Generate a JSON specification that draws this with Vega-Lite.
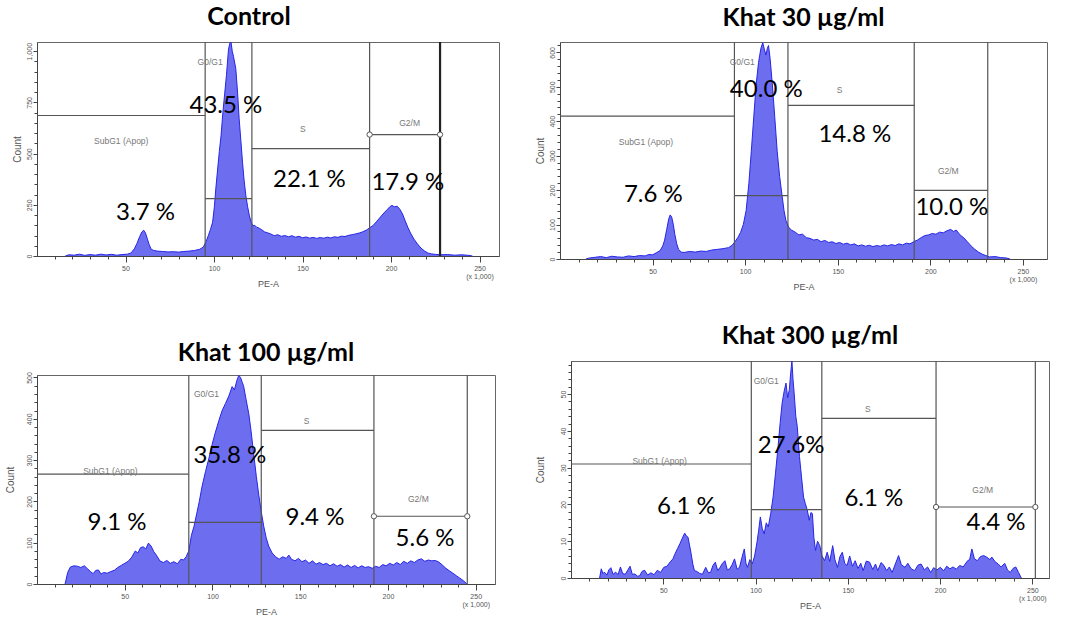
{
  "$schema": "https://vega.github.io/schema/vega-lite/v6.json",
  "description": "Cell cycle histograms, control and khat extract",
  "background": "white",
  "padding": {"left": 4, "top": 4, "right": 0, "bottom": 0},
  "config": {
    "view": {"stroke": "#666", "strokeWidth": 1},
    "font": "Liberation Sans",
    "title": {"font": "Lato", "fontSize": 25, "fontWeight": "bold", "color": "#000", "anchor": "middle", "frame": "group", "offset": 10},
    "axis": {"labelOverlap": false, "labelFlush": false, "grid": false},
    "axisX": {
      "titleFontSize": 9, "titleColor": "#555", "titleFontWeight": "normal", "titlePadding": 0,
      "labelFontSize": 7, "labelColor": "#555", "labelPadding": 2, "labelLineHeight": 8,
      "tickColor": "#444", "domainColor": "#444"
    },
    "axisY": {
      "titleFontSize": 10, "titleColor": "#555", "titleFontWeight": "normal", "titlePadding": 3,
      "labelAngle": -90, "labelAlign": "center", "labelBaseline": "bottom",
      "labelFontSize": 7, "labelColor": "#555", "labelPadding": 1,
      "tickColor": "#444", "domainColor": "#444"
    }
  },
  "datasets": {
    "h_ctrl": [
      {"pe":16,"count":0},{"pe":18,"count":6},{"pe":21,"count":4},{"pe":24,"count":9},{"pe":27,"count":3},{"pe":30,"count":7},{"pe":33,"count":4},{"pe":36,"count":9},{"pe":39,"count":5},{"pe":42,"count":8},{"pe":45,"count":4},{"pe":48,"count":7},{"pe":51,"count":9},{"pe":53,"count":14},{"pe":55,"count":35},{"pe":56.5,"count":62},{"pe":58,"count":95},{"pe":59.3,"count":118},{"pe":60.3,"count":126},{"pe":61.3,"count":112},{"pe":62.4,"count":82},{"pe":63.4,"count":55},{"pe":64.5,"count":33},{"pe":66,"count":27},{"pe":68,"count":24},{"pe":71,"count":22},{"pe":74,"count":20},{"pe":77,"count":21},{"pe":80,"count":19},{"pe":83,"count":22},{"pe":86,"count":24},{"pe":89,"count":27},{"pe":92,"count":33},{"pe":94,"count":44},{"pe":95.5,"count":70},{"pe":96.8,"count":100},{"pe":98,"count":130},{"pe":99.2,"count":165},{"pe":100.2,"count":240},{"pe":101,"count":327},{"pe":102,"count":420},{"pe":103,"count":510},{"pe":104,"count":590},{"pe":105,"count":700},{"pe":106,"count":790},{"pe":107,"count":880},{"pe":108.2,"count":1010},{"pe":109,"count":1040},{"pe":109.6,"count":1045},{"pe":110.3,"count":1000},{"pe":111,"count":975},{"pe":112.3,"count":915},{"pe":113.3,"count":800},{"pe":114.2,"count":670},{"pe":115.2,"count":560},{"pe":116.1,"count":458},{"pe":117,"count":370},{"pe":118,"count":294},{"pe":119,"count":240},{"pe":120,"count":196},{"pe":121,"count":165},{"pe":122,"count":148},{"pe":123,"count":150},{"pe":124,"count":141},{"pe":125.5,"count":136},{"pe":127,"count":128},{"pe":128.5,"count":118},{"pe":130,"count":114},{"pe":132,"count":108},{"pe":134,"count":99},{"pe":136,"count":104},{"pe":138,"count":96},{"pe":140,"count":100},{"pe":142,"count":94},{"pe":144,"count":99},{"pe":146,"count":92},{"pe":148,"count":96},{"pe":150,"count":89},{"pe":152,"count":93},{"pe":154,"count":87},{"pe":156,"count":91},{"pe":158,"count":86},{"pe":160,"count":90},{"pe":162,"count":87},{"pe":164,"count":92},{"pe":166,"count":88},{"pe":168,"count":94},{"pe":170,"count":91},{"pe":172,"count":97},{"pe":174,"count":95},{"pe":176,"count":101},{"pe":178,"count":104},{"pe":180,"count":108},{"pe":182,"count":112},{"pe":184,"count":118},{"pe":186,"count":126},{"pe":188,"count":138},{"pe":190,"count":150},{"pe":192,"count":170},{"pe":194,"count":190},{"pe":196,"count":210},{"pe":198,"count":228},{"pe":199.5,"count":242},{"pe":200.5,"count":247},{"pe":202,"count":240},{"pe":203.5,"count":243},{"pe":205,"count":228},{"pe":206.5,"count":205},{"pe":208,"count":172},{"pe":209.5,"count":140},{"pe":211,"count":112},{"pe":213,"count":82},{"pe":215,"count":58},{"pe":217,"count":38},{"pe":219,"count":24},{"pe":221,"count":14},{"pe":223,"count":10},{"pe":225,"count":8},{"pe":228,"count":6},{"pe":232,"count":7},{"pe":236,"count":4},{"pe":240,"count":6},{"pe":244,"count":3},{"pe":246,"count":0}
    ],
    "h_k30": [
      {"pe":14,"count":0},{"pe":16,"count":3},{"pe":19,"count":5},{"pe":22,"count":7},{"pe":25,"count":4},{"pe":28,"count":8},{"pe":31,"count":6},{"pe":34,"count":5},{"pe":37,"count":9},{"pe":40,"count":7},{"pe":43,"count":10},{"pe":46,"count":9},{"pe":48,"count":13},{"pe":50,"count":12},{"pe":52,"count":18},{"pe":54,"count":24},{"pe":55.5,"count":38},{"pe":56.5,"count":55},{"pe":57.6,"count":85},{"pe":58.7,"count":116},{"pe":59.5,"count":128},{"pe":60.3,"count":122},{"pe":61.2,"count":100},{"pe":62,"count":72},{"pe":63,"count":45},{"pe":64,"count":28},{"pe":65.5,"count":20},{"pe":67,"count":19},{"pe":70,"count":22},{"pe":73,"count":20},{"pe":76,"count":23},{"pe":79,"count":22},{"pe":82,"count":26},{"pe":85,"count":28},{"pe":88,"count":30},{"pe":91,"count":33},{"pe":93,"count":40},{"pe":94.5,"count":50},{"pe":96,"count":62},{"pe":97.5,"count":77},{"pe":99,"count":100},{"pe":100.5,"count":140},{"pe":102,"count":220},{"pe":103.3,"count":312},{"pe":104.6,"count":410},{"pe":105.9,"count":505},{"pe":107.2,"count":570},{"pe":108.5,"count":612},{"pe":109.5,"count":628},{"pe":110.3,"count":610},{"pe":111.2,"count":592},{"pe":112,"count":612},{"pe":112.6,"count":620},{"pe":113.5,"count":580},{"pe":114.7,"count":505},{"pe":116,"count":410},{"pe":117.3,"count":312},{"pe":118.6,"count":240},{"pe":119.9,"count":185},{"pe":121,"count":140},{"pe":122,"count":112},{"pe":123.5,"count":92},{"pe":125,"count":84},{"pe":127,"count":78},{"pe":129,"count":70},{"pe":131,"count":72},{"pe":133,"count":62},{"pe":135,"count":60},{"pe":137,"count":55},{"pe":139,"count":57},{"pe":141,"count":50},{"pe":143,"count":54},{"pe":145,"count":48},{"pe":147,"count":50},{"pe":149,"count":45},{"pe":151,"count":48},{"pe":153,"count":43},{"pe":155,"count":46},{"pe":157,"count":41},{"pe":159,"count":44},{"pe":161,"count":38},{"pe":163,"count":41},{"pe":165,"count":37},{"pe":167,"count":40},{"pe":169,"count":36},{"pe":171,"count":39},{"pe":173,"count":37},{"pe":175,"count":41},{"pe":177,"count":38},{"pe":179,"count":42},{"pe":181,"count":39},{"pe":183,"count":44},{"pe":185,"count":41},{"pe":187,"count":46},{"pe":189,"count":44},{"pe":191,"count":50},{"pe":193,"count":55},{"pe":195,"count":62},{"pe":197,"count":68},{"pe":199,"count":70},{"pe":201,"count":74},{"pe":203,"count":72},{"pe":205,"count":78},{"pe":207,"count":76},{"pe":209,"count":82},{"pe":211,"count":86},{"pe":212.5,"count":80},{"pe":214,"count":84},{"pe":216,"count":70},{"pe":218,"count":62},{"pe":220,"count":50},{"pe":222,"count":38},{"pe":224,"count":28},{"pe":226,"count":20},{"pe":228,"count":14},{"pe":230,"count":10},{"pe":232,"count":6},{"pe":235,"count":7},{"pe":238,"count":4},{"pe":241,"count":3},{"pe":243,"count":0}
    ],
    "h_k100": [
      {"pe":16,"count":0},{"pe":17.5,"count":28},{"pe":19,"count":41},{"pe":21,"count":44},{"pe":23,"count":43},{"pe":25,"count":40},{"pe":27,"count":44},{"pe":29,"count":36},{"pe":30.5,"count":30},{"pe":32,"count":25},{"pe":33.5,"count":33},{"pe":35,"count":34},{"pe":36.5,"count":24},{"pe":38,"count":28},{"pe":40,"count":26},{"pe":42,"count":30},{"pe":44,"count":33},{"pe":46,"count":40},{"pe":48,"count":45},{"pe":50,"count":50},{"pe":52,"count":55},{"pe":54,"count":65},{"pe":56,"count":80},{"pe":57.5,"count":75},{"pe":59,"count":88},{"pe":60.5,"count":90},{"pe":62,"count":85},{"pe":63.5,"count":99},{"pe":65,"count":92},{"pe":66.6,"count":78},{"pe":68,"count":70},{"pe":70,"count":56},{"pe":72,"count":52},{"pe":74,"count":57},{"pe":76,"count":50},{"pe":78,"count":54},{"pe":80,"count":49},{"pe":82,"count":60},{"pe":83.5,"count":58},{"pe":85,"count":66},{"pe":86.5,"count":80},{"pe":88,"count":118},{"pe":89.5,"count":140},{"pe":91,"count":170},{"pe":92.5,"count":200},{"pe":94,"count":235},{"pe":96,"count":272},{"pe":98,"count":305},{"pe":99.8,"count":338},{"pe":101.5,"count":365},{"pe":103.6,"count":395},{"pe":105.5,"count":420},{"pe":107.4,"count":437},{"pe":109.3,"count":455},{"pe":111.2,"count":478},{"pe":112.5,"count":470},{"pe":114,"count":494},{"pe":115,"count":505},{"pe":116,"count":500},{"pe":117,"count":488},{"pe":117.8,"count":478},{"pe":119,"count":450},{"pe":120.7,"count":412},{"pe":122,"count":370},{"pe":123.5,"count":314},{"pe":125,"count":260},{"pe":126.4,"count":215},{"pe":127.8,"count":175},{"pe":129.2,"count":140},{"pe":130.6,"count":112},{"pe":132,"count":92},{"pe":134,"count":75},{"pe":136,"count":66},{"pe":138,"count":60},{"pe":140,"count":66},{"pe":142,"count":62},{"pe":143.5,"count":70},{"pe":145,"count":60},{"pe":147,"count":56},{"pe":149,"count":62},{"pe":151,"count":54},{"pe":153,"count":58},{"pe":155,"count":50},{"pe":157,"count":56},{"pe":159,"count":48},{"pe":161,"count":52},{"pe":163,"count":47},{"pe":165,"count":50},{"pe":167,"count":44},{"pe":169,"count":49},{"pe":171,"count":43},{"pe":173,"count":47},{"pe":175,"count":41},{"pe":177,"count":46},{"pe":179,"count":40},{"pe":181,"count":45},{"pe":183,"count":39},{"pe":185,"count":44},{"pe":187,"count":40},{"pe":189,"count":42},{"pe":191,"count":38},{"pe":193,"count":43},{"pe":195,"count":40},{"pe":197,"count":47},{"pe":199,"count":44},{"pe":201,"count":50},{"pe":203,"count":46},{"pe":205,"count":52},{"pe":207,"count":47},{"pe":209,"count":55},{"pe":211,"count":50},{"pe":213,"count":56},{"pe":215,"count":52},{"pe":217,"count":58},{"pe":219,"count":61},{"pe":221,"count":55},{"pe":223,"count":58},{"pe":225,"count":56},{"pe":227,"count":57},{"pe":229,"count":53},{"pe":231,"count":46},{"pe":233,"count":38},{"pe":235,"count":32},{"pe":237,"count":26},{"pe":239,"count":20},{"pe":241,"count":14},{"pe":243,"count":8},{"pe":245,"count":0}
    ],
    "h_k300": [
      {"pe":15.5,"count":0},{"pe":16.4,"count":2.5},{"pe":17.3,"count":1.2},{"pe":18.1,"count":1.6},{"pe":19.5,"count":0.8},{"pe":20.5,"count":2.2},{"pe":21.6,"count":2.8},{"pe":22.8,"count":1.0},{"pe":24.2,"count":1.6},{"pe":25.5,"count":0.9},{"pe":26.8,"count":3.0},{"pe":28,"count":1.2},{"pe":29.4,"count":1.0},{"pe":30.7,"count":2.1},{"pe":32,"count":3.2},{"pe":33.2,"count":1.0},{"pe":34.6,"count":1.1},{"pe":36,"count":0.5},{"pe":37.2,"count":0.6},{"pe":38.5,"count":1.8},{"pe":39.9,"count":2.1},{"pe":41.5,"count":0.8},{"pe":43.3,"count":1.4},{"pe":45,"count":0.9},{"pe":46.8,"count":2.1},{"pe":48.5,"count":1.5},{"pe":50.3,"count":2.9},{"pe":52,"count":3.2},{"pe":53.8,"count":4.4},{"pe":55.2,"count":5.2},{"pe":56.4,"count":6.6},{"pe":57.7,"count":8.0},{"pe":59,"count":9.3},{"pe":60.3,"count":10.8},{"pe":61.6,"count":12.2},{"pe":62.5,"count":11.4},{"pe":63.4,"count":11.1},{"pe":64.2,"count":9.0},{"pe":65.1,"count":6.6},{"pe":66,"count":3.8},{"pe":66.9,"count":2.0},{"pe":68.2,"count":1.8},{"pe":69.5,"count":1.3},{"pe":71.2,"count":1.0},{"pe":73,"count":2.9},{"pe":74.3,"count":1.5},{"pe":75.6,"count":1.5},{"pe":76.9,"count":3.4},{"pe":78.2,"count":4.3},{"pe":79.5,"count":2.0},{"pe":80.8,"count":2.9},{"pe":82.1,"count":4.0},{"pe":83.4,"count":4.7},{"pe":84.7,"count":2.2},{"pe":86,"count":2.5},{"pe":87.3,"count":3.6},{"pe":88.6,"count":5.2},{"pe":90,"count":2.4},{"pe":91.3,"count":2.9},{"pe":92.6,"count":5.5},{"pe":93.9,"count":7.9},{"pe":94.8,"count":4.0},{"pe":95.6,"count":2.9},{"pe":96.9,"count":5.0},{"pe":98.2,"count":3.8},{"pe":99.5,"count":6.0},{"pe":100.8,"count":9.8},{"pe":101.7,"count":13.0},{"pe":102.6,"count":16.6},{"pe":103.6,"count":13.5},{"pe":104.7,"count":12.0},{"pe":105.8,"count":15.0},{"pe":106.9,"count":13.9},{"pe":108.2,"count":17.5},{"pe":109.5,"count":22.0},{"pe":110.8,"count":28.5},{"pe":112.2,"count":35.7},{"pe":113.3,"count":42.0},{"pe":114.4,"count":47.6},{"pe":115.5,"count":50.8},{"pe":116.5,"count":53.0},{"pe":117.4,"count":49.0},{"pe":118.3,"count":51.2},{"pe":119,"count":55.5},{"pe":119.7,"count":59.0},{"pe":120.3,"count":54.0},{"pe":120.9,"count":50.3},{"pe":121.8,"count":44.0},{"pe":122.6,"count":41.2},{"pe":123.8,"count":33.0},{"pe":124.9,"count":27.5},{"pe":126,"count":22.0},{"pe":127,"count":20.2},{"pe":128,"count":18.5},{"pe":129.1,"count":15.7},{"pe":130,"count":17.8},{"pe":130.8,"count":17.5},{"pe":131.6,"count":11.0},{"pe":132.5,"count":7.5},{"pe":133.6,"count":10.0},{"pe":134.8,"count":8.8},{"pe":136,"count":6.0},{"pe":137.4,"count":4.7},{"pe":138.8,"count":7.0},{"pe":140.2,"count":4.5},{"pe":141.8,"count":8.8},{"pe":143,"count":5.0},{"pe":144.4,"count":2.9},{"pe":145.7,"count":5.8},{"pe":147,"count":7.0},{"pe":148.3,"count":4.0},{"pe":149.6,"count":3.4},{"pe":151,"count":6.0},{"pe":152.5,"count":3.2},{"pe":154,"count":4.7},{"pe":155.5,"count":2.6},{"pe":157,"count":4.0},{"pe":158.3,"count":2.0},{"pe":160,"count":4.6},{"pe":161.8,"count":4.3},{"pe":163.5,"count":2.3},{"pe":165,"count":3.8},{"pe":166.2,"count":2.0},{"pe":168,"count":4.2},{"pe":169.6,"count":3.4},{"pe":171,"count":2.0},{"pe":172.5,"count":3.0},{"pe":174,"count":1.5},{"pe":175.5,"count":3.5},{"pe":177.5,"count":6.1},{"pe":179,"count":3.6},{"pe":181,"count":2.9},{"pe":182.5,"count":4.0},{"pe":184.3,"count":2.5},{"pe":186.2,"count":2.0},{"pe":188,"count":3.5},{"pe":189.7,"count":3.8},{"pe":191.5,"count":2.2},{"pe":193.2,"count":3.0},{"pe":194.9,"count":1.5},{"pe":196.5,"count":2.8},{"pe":198.3,"count":2.2},{"pe":200.1,"count":2.9},{"pe":202,"count":2.0},{"pe":203.6,"count":3.2},{"pe":205.3,"count":2.5},{"pe":207,"count":3.0},{"pe":208.8,"count":2.4},{"pe":210.6,"count":3.4},{"pe":212.5,"count":3.0},{"pe":214.9,"count":4.7},{"pe":216,"count":5.0},{"pe":217.2,"count":7.9},{"pe":218.6,"count":5.2},{"pe":220.2,"count":4.7},{"pe":221.8,"count":5.8},{"pe":223.6,"count":6.1},{"pe":225.5,"count":5.6},{"pe":227,"count":5.0},{"pe":228,"count":5.7},{"pe":229.8,"count":4.4},{"pe":231.5,"count":3.8},{"pe":233,"count":3.0},{"pe":235,"count":4.0},{"pe":236.5,"count":2.2},{"pe":238,"count":1.5},{"pe":239.5,"count":2.6},{"pe":241,"count":3.0},{"pe":242.5,"count":1.5},{"pe":244,"count":0}
    ],
    "g_ctrl": [
      {"gate":"SubG1","x1":0,"x2":95,"y":686,"label":"SubG1 (Apop)","lx":47.6,"ly":564,"pct":"3.7 %","px":61.3,"py":211},
      {"gate":"G0/G1","x1":95,"x2":121.4,"y":280,"label":"G0/G1","lx":97.8,"ly":946,"pct":"43.5 %","px":106.7,"py":732},
      {"gate":"S","x1":121.4,"x2":187.9,"y":524,"label":"S","lx":150.2,"ly":618,"pct":"22.1 %","px":153.9,"py":371},
      {"gate":"G2/M","x1":187.9,"x2":227.7,"y":593,"label":"G2/M","lx":210.5,"ly":650,"pct":"17.9 %","px":209.5,"py":358}
    ],
    "g_k30": [
      {"gate":"SubG1","x1":0,"x2":94.2,"y":415,"label":"SubG1 (Apop)","lx":46.4,"ly":341,"pct":"7.6 %","px":50.4,"py":186},
      {"gate":"G0/G1","x1":94.2,"x2":123.1,"y":184,"label":"G0/G1","lx":98.4,"ly":572,"pct":"40.0 %","px":111.4,"py":490},
      {"gate":"S","x1":123.1,"x2":191.3,"y":446,"label":"S","lx":151,"ly":490,"pct":"14.8 %","px":159.2,"py":360},
      {"gate":"G2/M","x1":191.3,"x2":231,"y":199,"label":"G2/M","lx":209.7,"ly":256,"pct":"10.0 %","px":211.6,"py":148}
    ],
    "g_k100": [
      {"gate":"SubG1","x1":0,"x2":86.5,"y":266,"label":"SubG1 (Apop)","lx":41.8,"ly":273,"pct":"9.1 %","px":45.6,"py":148},
      {"gate":"G0/G1","x1":86.5,"x2":127.8,"y":149,"label":"G0/G1","lx":96.6,"ly":461,"pct":"35.8 %","px":109.9,"py":310},
      {"gate":"S","x1":127.8,"x2":192,"y":372,"label":"S","lx":153.6,"ly":394,"pct":"9.4 %","px":158.4,"py":160},
      {"gate":"G2/M","x1":192,"x2":245.2,"y":164,"label":"G2/M","lx":217.3,"ly":205,"pct":"5.6 %","px":221.1,"py":110}
    ],
    "g_k300": [
      {"gate":"SubG1","x1":0,"x2":97.7,"y":31,"label":"SubG1 (Apop)","lx":48,"ly":31.9,"pct":"6.1 %","px":62.5,"py":19.3},
      {"gate":"G0/G1","x1":97.7,"x2":135.9,"y":18.6,"label":"G0/G1","lx":105.8,"ly":53.6,"pct":"27.6%","px":119.3,"py":36},
      {"gate":"S","x1":135.9,"x2":197.8,"y":43.4,"label":"S","lx":160.8,"ly":45.9,"pct":"6.1 %","px":164.1,"py":21.5},
      {"gate":"G2/M","x1":197.8,"x2":251.6,"y":19.3,"label":"G2/M","lx":223.1,"ly":24,"pct":"4.4 %","px":230.3,"py":15}
    ],
    "m_ctrl": [{"x":187.9,"y":593},{"x":227.7,"y":593}],
    "m_k100": [{"x":192,"y":164},{"x":245.2,"y":164}],
    "m_k300": [{"x":197.8,"y":19.3},{"x":251.6,"y":19.3}]
  },
  "columns": 2,
  "align": "none",
  "spacing": {"row": 31, "column": 34},
  "concat": [
    {
      "title": {"text": "Control", "dx": -19},
      "width": 462,
      "height": 214,
      "resolve": {"axis": {"x": "independent", "y": "independent"}},
      "layer": [
        {
          "data": {"name": "h_ctrl"},
          "mark": {"type": "area", "color": "#6d6df0", "opacity": 1, "line": {"color": "#2626e6", "strokeWidth": 1}},
          "encoding": {
            "x": {"field": "pe", "type": "quantitative", "title": "PE-A", "scale": {"domain": [0, 261], "nice": false},
              "axis": {"values": [50,100,150,200,250], "labelExpr": "datum.value === 250 ? ['250', '(x 1,000)'] : datum.label", "tickSize": 6}},
            "y": {"field": "count", "type": "quantitative", "title": "Count", "scale": {"domain": [0, 1045], "nice": false},
              "axis": {"values": [0,250,500,750,1000], "labelExpr": "format(datum.value, ',')", "tickSize": 4}}
          }
        },
        {
          "data": {"name": "g_ctrl"},
          "mark": {"type": "rule", "color": "#555", "strokeWidth": 1.2},
          "encoding": {"x": {"field": "x2", "type": "quantitative",
            "axis": {"orient": "bottom", "values": [10,20,30,40,60,70,80,90,110,120,130,140,160,170,180,190,210,220,230,240], "labels": false, "domain": false, "title": null, "tickSize": 3}}}
        },
        {
          "data": {"name": "g_ctrl"},
          "transform": [{"filter": "datum.gate === 'G2/M'"}],
          "mark": {"type": "rule", "color": "#222", "strokeWidth": 2.2},
          "encoding": {"x": {"field": "x2", "type": "quantitative", "axis": null}}
        },
        {
          "data": {"name": "g_ctrl"},
          "mark": {"type": "rule", "color": "#555", "strokeWidth": 1.2},
          "encoding": {
            "x": {"field": "x1", "type": "quantitative", "axis": null},
            "x2": {"field": "x2"},
            "y": {"field": "y", "type": "quantitative",
              "axis": {"orient": "left", "values": [50,100,150,200,300,350,400,450,550,600,650,700,800,850,900,950], "labels": false, "domain": false, "title": null, "tickSize": 3}}
          }
        },
        {
          "data": {"name": "m_ctrl"},
          "mark": {"type": "point", "shape": "circle", "filled": false, "fill": "white", "fillOpacity": 1, "stroke": "#555", "strokeWidth": 1, "size": 28, "opacity": 1},
          "encoding": {
            "x": {"field": "x", "type": "quantitative", "axis": null},
            "y": {"field": "y", "type": "quantitative", "axis": null}
          }
        },
        {
          "data": {"name": "g_ctrl"},
          "mark": {"type": "text", "fontSize": 8.5, "color": "#777", "align": "center", "baseline": "middle"},
          "encoding": {
            "x": {"field": "lx", "type": "quantitative", "axis": null},
            "y": {"field": "ly", "type": "quantitative", "axis": null},
            "text": {"field": "label"}
          }
        },
        {
          "data": {"name": "g_ctrl"},
          "mark": {"type": "text", "font": "Lato", "fontSize": 24, "color": "#000", "align": "center", "baseline": "middle"},
          "encoding": {
            "x": {"field": "px", "type": "quantitative", "axis": null},
            "y": {"field": "py", "type": "quantitative", "axis": null},
            "text": {"field": "pct"}
          }
        }
      ]
    },
    {
      "title": {"text": "Khat 30 µg/ml"},
      "width": 487,
      "height": 217,
      "resolve": {"axis": {"x": "independent", "y": "independent"}},
      "layer": [
        {
          "data": {"name": "h_k30"},
          "mark": {"type": "area", "color": "#6d6df0", "opacity": 1, "line": {"color": "#2626e6", "strokeWidth": 1}},
          "encoding": {
            "x": {"field": "pe", "type": "quantitative", "title": "PE-A", "scale": {"domain": [0, 263], "nice": false},
              "axis": {"values": [50,100,150,200,250], "labelExpr": "datum.value === 250 ? ['250', '(x 1,000)'] : datum.label", "tickSize": 6}},
            "y": {"field": "count", "type": "quantitative", "title": "Count", "scale": {"domain": [0, 630], "nice": false},
              "axis": {"values": [0,100,200,300,400,500,600], "tickSize": 4}}
          }
        },
        {
          "data": {"name": "g_k30"},
          "mark": {"type": "rule", "color": "#555", "strokeWidth": 1.2},
          "encoding": {"x": {"field": "x2", "type": "quantitative",
            "axis": {"orient": "bottom", "values": [10,20,30,40,60,70,80,90,110,120,130,140,160,170,180,190,210,220,230,240], "labels": false, "domain": false, "title": null, "tickSize": 3}}}
        },
        {
          "data": {"name": "g_k30"},
          "mark": {"type": "rule", "color": "#555", "strokeWidth": 1.2},
          "encoding": {
            "x": {"field": "x1", "type": "quantitative", "axis": null},
            "x2": {"field": "x2"},
            "y": {"field": "y", "type": "quantitative",
              "axis": {"orient": "left", "values": [20,40,60,80,120,140,160,180,220,240,260,280,320,340,360,380,420,440,460,480,520,540,560,580,620], "labels": false, "domain": false, "title": null, "tickSize": 3}}
          }
        },
        {
          "data": {"name": "g_k30"},
          "mark": {"type": "text", "fontSize": 8.5, "color": "#777", "align": "center", "baseline": "middle"},
          "encoding": {
            "x": {"field": "lx", "type": "quantitative", "axis": null},
            "y": {"field": "ly", "type": "quantitative", "axis": null},
            "text": {"field": "label"}
          }
        },
        {
          "data": {"name": "g_k30"},
          "mark": {"type": "text", "font": "Lato", "fontSize": 24, "color": "#000", "align": "center", "baseline": "middle"},
          "encoding": {
            "x": {"field": "px", "type": "quantitative", "axis": null},
            "y": {"field": "py", "type": "quantitative", "axis": null},
            "text": {"field": "pct"}
          }
        }
      ]
    },
    {
      "title": {"text": ["", "Khat 100 µg/ml"], "lineHeight": 17, "offset": 6},
      "width": 458,
      "height": 209,
      "resolve": {"axis": {"x": "independent", "y": "independent"}},
      "layer": [
        {
          "data": {"name": "h_k100"},
          "mark": {"type": "area", "color": "#6d6df0", "opacity": 1, "line": {"color": "#2626e6", "strokeWidth": 1}},
          "encoding": {
            "x": {"field": "pe", "type": "quantitative", "title": "PE-A", "scale": {"domain": [0, 261], "nice": false},
              "axis": {"values": [50,100,150,200,250], "labelExpr": "datum.value === 250 ? ['250', '(x 1,000)'] : datum.label", "tickSize": 6}},
            "y": {"field": "count", "type": "quantitative", "title": "Count", "scale": {"domain": [0, 506], "nice": false},
              "axis": {"values": [0,100,200,300,400,500], "tickSize": 4, "minExtent": 19}}
          }
        },
        {
          "data": {"name": "g_k100"},
          "mark": {"type": "rule", "color": "#555", "strokeWidth": 1.2},
          "encoding": {"x": {"field": "x2", "type": "quantitative",
            "axis": {"orient": "bottom", "values": [10,20,30,40,60,70,80,90,110,120,130,140,160,170,180,190,210,220,230,240], "labels": false, "domain": false, "title": null, "tickSize": 3}}}
        },
        {
          "data": {"name": "g_k100"},
          "mark": {"type": "rule", "color": "#555", "strokeWidth": 1.2},
          "encoding": {
            "x": {"field": "x1", "type": "quantitative", "axis": null},
            "x2": {"field": "x2"},
            "y": {"field": "y", "type": "quantitative",
              "axis": {"orient": "left", "values": [20,40,60,80,120,140,160,180,220,240,260,280,320,340,360,380,420,440,460,480], "labels": false, "domain": false, "title": null, "tickSize": 3}}
          }
        },
        {
          "data": {"name": "m_k100"},
          "mark": {"type": "point", "shape": "circle", "filled": false, "fill": "white", "fillOpacity": 1, "stroke": "#555", "strokeWidth": 1, "size": 28, "opacity": 1},
          "encoding": {
            "x": {"field": "x", "type": "quantitative", "axis": null},
            "y": {"field": "y", "type": "quantitative", "axis": null}
          }
        },
        {
          "data": {"name": "g_k100"},
          "mark": {"type": "text", "fontSize": 8.5, "color": "#777", "align": "center", "baseline": "middle"},
          "encoding": {
            "x": {"field": "lx", "type": "quantitative", "axis": null},
            "y": {"field": "ly", "type": "quantitative", "axis": null},
            "text": {"field": "label"}
          }
        },
        {
          "data": {"name": "g_k100"},
          "mark": {"type": "text", "font": "Lato", "fontSize": 24, "color": "#000", "align": "center", "baseline": "middle"},
          "encoding": {
            "x": {"field": "px", "type": "quantitative", "axis": null},
            "y": {"field": "py", "type": "quantitative", "axis": null},
            "text": {"field": "pct"}
          }
        }
      ]
    },
    {
      "title": {"text": "Khat 300 µg/ml", "offset": 10},
      "width": 478,
      "height": 217,
      "resolve": {"axis": {"x": "independent", "y": "independent"}},
      "layer": [
        {
          "data": {"name": "h_k300"},
          "mark": {"type": "area", "color": "#6d6df0", "opacity": 1, "line": {"color": "#2626e6", "strokeWidth": 1}},
          "encoding": {
            "x": {"field": "pe", "type": "quantitative", "title": "PE-A", "scale": {"domain": [0, 259], "nice": false},
              "axis": {"values": [50,100,150,200,250], "labelExpr": "datum.value === 250 ? ['250', '(x 1,000)'] : datum.label", "tickSize": 6}},
            "y": {"field": "count", "type": "quantitative", "title": "Count", "scale": {"domain": [0, 59], "nice": false},
              "axis": {"values": [0,10,20,30,40,50], "tickSize": 4, "minExtent": 23}}
          }
        },
        {
          "data": {"name": "g_k300"},
          "mark": {"type": "rule", "color": "#555", "strokeWidth": 1.2},
          "encoding": {"x": {"field": "x2", "type": "quantitative",
            "axis": {"orient": "bottom", "values": [10,20,30,40,60,70,80,90,110,120,130,140,160,170,180,190,210,220,230,240], "labels": false, "domain": false, "title": null, "tickSize": 3}}}
        },
        {
          "data": {"name": "g_k300"},
          "mark": {"type": "rule", "color": "#555", "strokeWidth": 1.2},
          "encoding": {
            "x": {"field": "x1", "type": "quantitative", "axis": null},
            "x2": {"field": "x2"},
            "y": {"field": "y", "type": "quantitative",
              "axis": {"orient": "left", "values": [2,4,6,8,12,14,16,18,22,24,26,28,32,34,36,38,42,44,46,48,52,54,56,58], "labels": false, "domain": false, "title": null, "tickSize": 3}}
          }
        },
        {
          "data": {"name": "m_k300"},
          "mark": {"type": "point", "shape": "circle", "filled": false, "fill": "white", "fillOpacity": 1, "stroke": "#555", "strokeWidth": 1, "size": 28, "opacity": 1},
          "encoding": {
            "x": {"field": "x", "type": "quantitative", "axis": null},
            "y": {"field": "y", "type": "quantitative", "axis": null}
          }
        },
        {
          "data": {"name": "g_k300"},
          "mark": {"type": "text", "fontSize": 8.5, "color": "#777", "align": "center", "baseline": "middle"},
          "encoding": {
            "x": {"field": "lx", "type": "quantitative", "axis": null},
            "y": {"field": "ly", "type": "quantitative", "axis": null},
            "text": {"field": "label"}
          }
        },
        {
          "data": {"name": "g_k300"},
          "mark": {"type": "text", "font": "Lato", "fontSize": 24, "color": "#000", "align": "center", "baseline": "middle"},
          "encoding": {
            "x": {"field": "px", "type": "quantitative", "axis": null},
            "y": {"field": "py", "type": "quantitative", "axis": null},
            "text": {"field": "pct"}
          }
        }
      ]
    }
  ]
}
